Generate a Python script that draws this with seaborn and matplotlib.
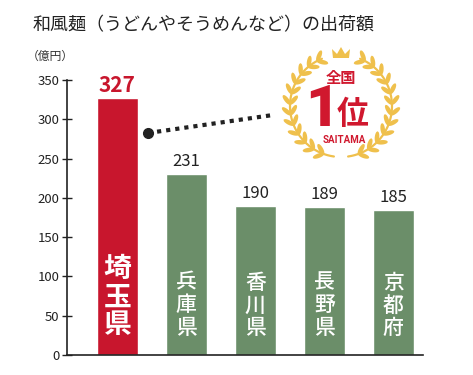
import numpy as np
import matplotlib
matplotlib.use("Agg")
import matplotlib.pyplot as plt
import seaborn as sns
from matplotlib.patches import Polygon

prefectures = ["埼玉県", "兵庫県", "香川県", "長野県", "京都府"]
values = [327, 231, 190, 189, 185]
bar_colors = ["#c8162d", "#6b8e69", "#6b8e69", "#6b8e69", "#6b8e69"]
yticks = [0, 50, 100, 150, 200, 250, 300, 350]

sns.set_theme(style="white")
plt.rcParams["font.family"] = ["Noto Sans CJK JP", "DejaVu Sans"]

W, H = 473, 375
fig = plt.figure(figsize=(W / 100, H / 100), dpi=100)
fig.patch.set_facecolor("white")
ax = fig.add_axes([67 / W, 20 / H, (423 - 67) / W, 275 / H])

sns.barplot(x=prefectures, y=values, hue=prefectures, palette=bar_colors,
            width=0.6, saturation=1, legend=False, ax=ax)
ax.set_ylim(0, 350)
ax.set_xlim(-0.73, 4.43)
ax.set_yticks(yticks)
ax.set_xticks([])
ax.set_xlabel("")
ax.set_ylabel("")
ax.tick_params(axis="y", labelsize=9.5, direction="inout", length=7, width=1,
               color="#222222", labelcolor="#222222", pad=2, left=True)
for s in ["top", "right"]:
    ax.spines[s].set_visible(False)
for s in ["left", "bottom"]:
    ax.spines[s].set_color("#222222")
    ax.spines[s].set_linewidth(1.2)

# value labels and vertical names
for i, (name, v) in enumerate(zip(prefectures, values)):
    if i == 0:
        ax.text(i, v + 3, str(v), ha="center", va="bottom", fontsize=15,
                fontweight="bold", color="#c8162d")
        ax.text(i, 20, "\n".join(name), ha="center", va="bottom", fontsize=20,
                fontweight="bold", color="white", linespacing=1.0)
    else:
        ax.text(i, v + 5, str(v), ha="center", va="bottom", fontsize=12,
                color="#222222")
        ax.text(i, 20, "\n".join(name), ha="center", va="bottom", fontsize=15,
                fontweight="medium", color="white", linespacing=1.05)

fig.text(33 / W, 1 - 25 / H, "和風麺（うどんやそうめんなど）の出荷額", ha="left",
         va="center", fontsize=13, color="#222222")
fig.text(27 / W, 1 - 56 / H, "（億円）", ha="left", va="center", fontsize=8.5,
         color="#333333")

# overlay in pixel coordinates for the medal decoration
ov = fig.add_axes([0, 0, 1, 1], zorder=5)
ov.set_xlim(0, W)
ov.set_ylim(H, 0)
ov.axis("off")
ov.patch.set_alpha(0)

ov.plot([148, 273], [133, 115], ls=(0, (1, 1.2)), lw=3, color="#222222")
ov.plot([148], [133], "o", ms=7, color="#222222")


def leaf(p, d, L=12, w=4.5):
    n = np.array([-d[1], d[0]])
    s = np.linspace(-1, 1, 15)
    top = [p + d * si * L / 2 + n * w / 2 * np.sqrt(1 - si ** 2) for si in s]
    bot = [p + d * si * L / 2 - n * w / 2 * np.sqrt(1 - si ** 2) for si in s[::-1]]
    return np.array(top + bot)


cx, cy, r = 341, 106, 51
gold = "#efc04c"
ts = np.deg2rad(np.linspace(-82, 68, 40))
for side in (-1, 1):
    ov.plot(cx + side * r * np.cos(ts), cy - r * np.sin(ts), color=gold, lw=1.6)
    for t in np.deg2rad(np.linspace(-70, 62, 12)):
        arc = np.array([cx + side * r * np.cos(t), cy - r * np.sin(t)])
        tan = np.array([-side * np.sin(t), -np.cos(t)])
        out = np.array([side * np.cos(t), -np.sin(t)])
        for k in (1, -1):
            a = np.deg2rad(40)
            d = np.cos(a) * tan + k * np.sin(a) * out
            d = d / np.linalg.norm(d)
            p = arc + d * 5.5
            ov.add_patch(Polygon(leaf(p, d), closed=True, color=gold, lw=0))
ov.add_patch(Polygon([[cx - 8, 58], [cx - 9, 49], [cx - 4, 54], [cx, 47], [cx + 4, 54],
                      [cx + 9, 49], [cx + 8, 58]], closed=True, color=gold, lw=0))

red = "#d0182e"
ov.text(cx, 78, "全国", ha="center", va="center", fontsize=11, fontweight="bold", color=red)
ov.text(cx - 19, 110, "1", ha="center", va="center", fontsize=42, fontweight="black",
        color=red, family=["Roboto", "DejaVu Sans"])
ov.text(cx + 12, 115, "位", ha="center", va="center", fontsize=23, fontweight="bold", color=red)
ov.text(cx + 3, 140, "SAITAMA", ha="center", va="center", fontsize=7, fontweight="bold",
        color=red, family=["Roboto", "DejaVu Sans"])

fig.savefig("out.png", dpi=100)
